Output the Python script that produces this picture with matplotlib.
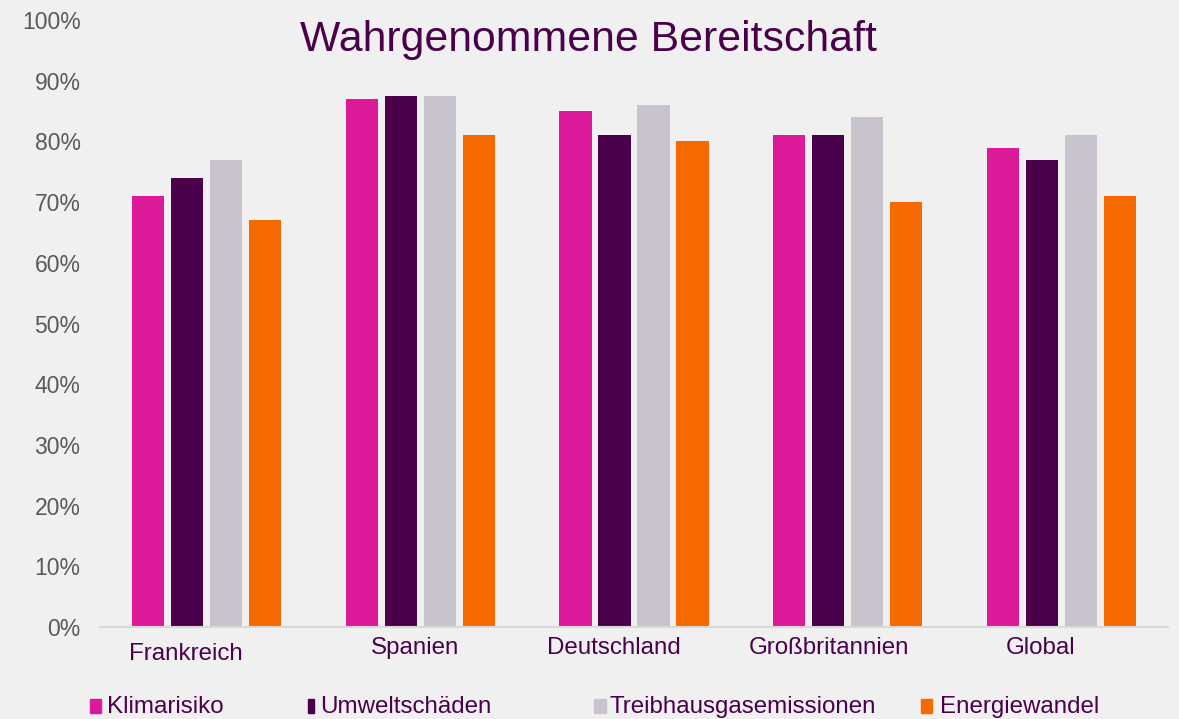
import numpy as np
import matplotlib.pyplot as plt
from matplotlib.patches import Rectangle

# data
laender = ["Frankreich", "Spanien", "Deutschland", "Großbritannien", "Global"]
klimarisiko = [71, 87, 85, 81, 79]
umweltschaeden = [74, 87.5, 81, 81, 77]
treibhausgas = [77, 87.5, 86, 84, 81]
energiewandel = [67, 81, 80, 70, 71]
serien = ["Klimarisiko", "Umweltschäden", "Treibhausgasemissionen", "Energiewandel"]

farben = ["#DC1A99", "#4B004B", "#C9C3CE", "#F56A00"]
bg = "#F0F0F0"
lila = "#4B004B"

plt.rcParams['font.family'] = ['Liberation Sans', 'DejaVu Sans']

fig = plt.figure(figsize=(11.79, 7.19), dpi=100, facecolor=bg)
ax = fig.add_axes([0.0848, 0.128, 0.9059, 0.844], facecolor=bg)

x = np.arange(len(laender))
breite = 0.15
schritt = 0.1826
werte = [klimarisiko, umweltschaeden, treibhausgas, energiewandel]
for i, (w, f) in enumerate(zip(werte, farben)):
    ax.bar(x + (i - 1.5) * schritt, np.array(w) / 100, breite, color=f, zorder=2)

ax.set_xlim(-0.5, 4.5)
ax.set_ylim(0, 1)
ax.set_yticks(np.arange(0, 1.01, 0.1))
ax.set_yticklabels(["{}%".format(int(round(v * 100))) for v in np.arange(0, 1.01, 0.1)],
                   fontsize=16.5, color="#595959")
ax.tick_params(axis='y', length=0, pad=14)
ax.set_xticks([])
for s in ["top", "right", "left"]:
    ax.spines[s].set_visible(False)
ax.spines["bottom"].set_color("#D9D9D9")
ax.spines["bottom"].set_linewidth(1.5)

# kategorie-beschriftungen (leicht versetzt wie im original)
dx = [-21, -5, -20, -19, -21]
dy = [-27, -21, -21, -21, -21]
for xi, name, ox, oy in zip(x, laender, dx, dy):
    ax.annotate(name, (xi, 0), xytext=(ox, oy),
                textcoords='offset pixels', ha='center', va='center',
                fontsize=17.4, color=lila, annotation_clip=False)

fig.text(0.499, 0.945, "Wahrgenommene Bereitschaft", ha='center', va='center',
         fontsize=30.8, color=lila)

# legende
leg_marker = [(90, 11), (308, 6), (594, 12), (921, 11)]
leg_text = [107, 320, 609, 940]
for (mx, mw), tx, f, name in zip(leg_marker, leg_text, farben, serien):
    fig.patches.append(Rectangle((mx / 1179, 1 - 713 / 719), mw / 1179, 14 / 719,
                                 transform=fig.transFigure, color=f, figure=fig))
    fig.text(tx / 1179, 1 - 707 / 719, name, ha='left', va='center',
             fontsize=17.4, color=lila)

fig.savefig("out.png", dpi=100, facecolor=bg)
